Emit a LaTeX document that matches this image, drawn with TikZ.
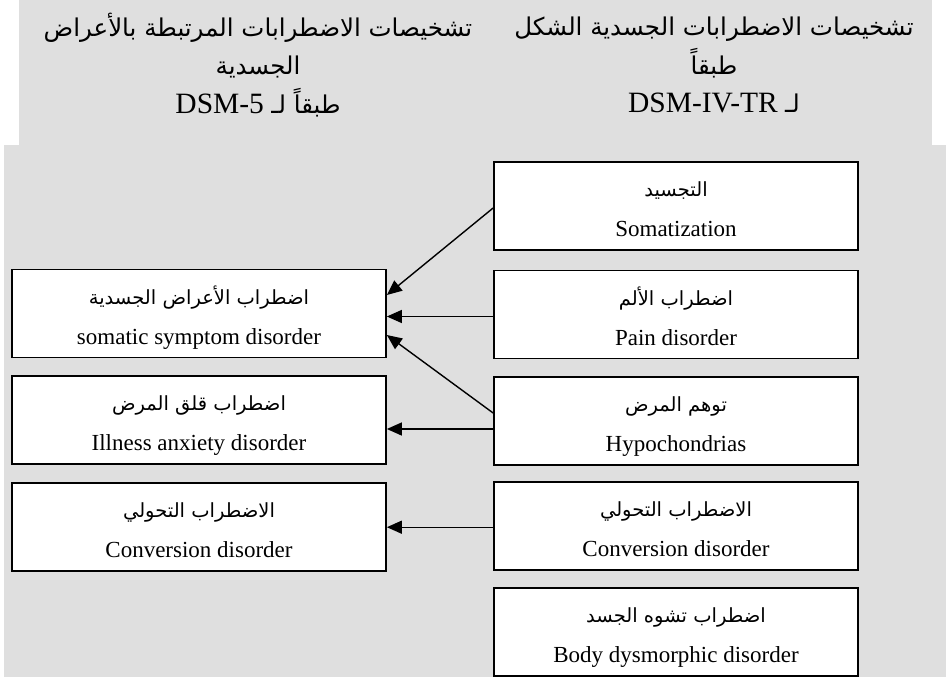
\documentclass[tikz,border=0pt]{standalone}
\usepackage{fontspec}
\setmainfont{Liberation Serif}
\newfontfamily\arfont[Script=Arabic]{DejaVu Sans}
\TeXXeTstate=1
\usetikzlibrary{arrows.meta,calc}
\definecolor{panel}{HTML}{DFDFDF}
% Arabic runs: header size and box size
\newcommand{\hdar}[1]{{\arfont\fontsize{24.5}{38.5}\selectfont\beginR #1\endR}}
\newcommand{\bxar}[1]{\rule{0pt}{28pt}{\arfont\fontsize{19.5}{40}\selectfont\beginR #1\endR}}
\newcommand{\bxen}[1]{#1\rule[-7pt]{0pt}{7pt}}
\begin{document}
\begin{tikzpicture}[x=1pt,y=-1pt,
  disbox/.style={draw=black, line width=1.7pt, fill=white,
    minimum height=88pt, inner sep=0pt, align=center,
    font=\fontsize{23}{40}\selectfont},
  rbox/.style={disbox, minimum width=364pt},
  lbox/.style={disbox, minimum width=374pt},
  heading/.style={align=center, inner sep=0pt, font=\fontsize{29.5}{38.5}\selectfont},
  link/.style={line width=1.4pt, -{Triangle[length=15pt,width=13pt]}}]
\useasboundingbox (0,0) rectangle (946,677);
% background panels
\fill[panel] (19,0) rectangle (932,145);
\fill[panel] (4,145) rectangle (946,677);

% column headings
\node[heading] (hl) at (258,65) {\hdar{تشخيصات الاضطرابات المرتبطة بالأعراض}\\ \hdar{الجسدية}\\ DSM-5 \hdar{طبقاً لـ}};
\node[heading] (hr) at (714,65) {\hdar{تشخيصات الاضطرابات الجسدية الشكل}\\ \hdar{طبقاً}\\ DSM-IV-TR \hdar{لـ}};

% DSM-IV-TR diagnoses
\node[rbox] (som)  at (676,206)   {\bxar{التجسيد}\\ \bxen{Somatization}};
\node[rbox] (pain) at (676,314.5) {\bxar{اضطراب الألم}\\ \bxen{Pain disorder}};
\node[rbox] (hyp)  at (676,421)   {\bxar{توهم المرض}\\ \bxen{Hypochondrias}};
\node[rbox] (conv) at (676,525.7) {\bxar{الاضطراب التحولي}\\ \bxen{Conversion disorder}};
\node[rbox] (body) at (676,632)   {\bxar{اضطراب تشوه الجسد}\\ \bxen{Body dysmorphic disorder}};

% DSM-5 diagnoses
\node[lbox] (ssd)   at (199,313.5) {\bxar{اضطراب الأعراض الجسدية}\\ \bxen{somatic symptom disorder}};
\node[lbox] (ill)   at (199,420)   {\bxar{اضطراب قلق المرض}\\ \bxen{Illness anxiety disorder}};
\node[lbox] (lconv) at (199,526.7) {\bxar{الاضطراب التحولي}\\ \bxen{Conversion disorder}};

% mappings
\draw[link] ($(som.west)+(0,2)$) -- ($(ssd.east)+(0,-18.5)$);
\draw[link] ($(pain.west)+(0,2)$) -- ($(ssd.east)+(0,3)$);
\draw[link] ($(hyp.west)+(0,-8)$) -- ($(ssd.east)+(0,21.5)$);
\draw[link] ($(hyp.west)+(0,8)$) -- ($(ill.east)+(0,9)$);
\draw[link] ($(conv.west)+(0,1.5)$) -- ($(lconv.east)+(0,0.5)$);
\end{tikzpicture}
\end{document}
